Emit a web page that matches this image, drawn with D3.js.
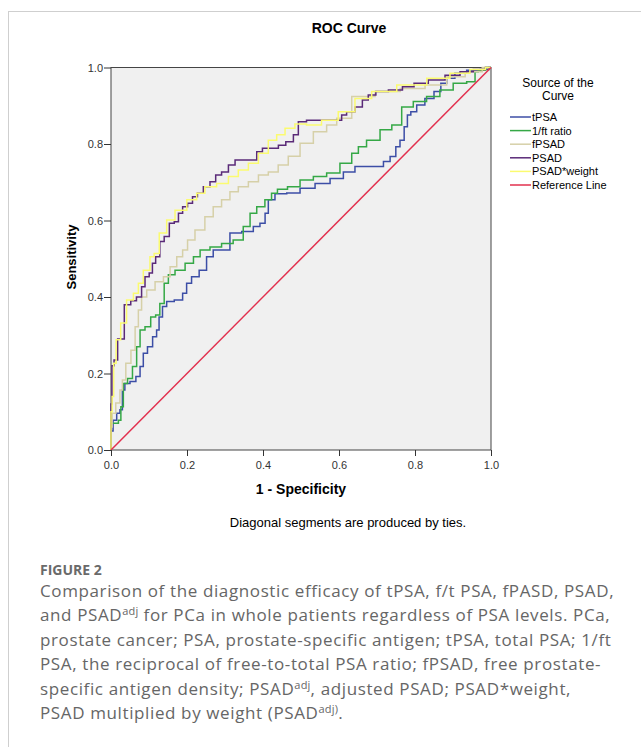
<!DOCTYPE html>
<meta charset="utf-8">
<style>
body { margin: 0; background: #fff; }
svg text { font-family: "Liberation Sans", Arial, sans-serif; }
.tick text { font-size: 11px; fill: #333; }
.tick line, .domain { stroke: #333; }
.caption { font-family: "Open Sans", sans-serif; fill: #666; }
</style>
<body>
<script src="https://d3js.org/d3.v7.min.js"></script>
<script>

// ROC curves: 1 - specificity (fpr) and sensitivity (tpr)
var tPSA_fpr = [0, 0, 0.011, 0.019, 0.028, 0.032, 0.041, 0.059, 0.072, 0.081, 0.089, 0.103, 0.116, 0.124, 0.129, 0.142, 0.151, 0.182, 0.195, 0.203, 0.221, 0.243, 0.26, 0.278, 0.304, 0.322, 0.366, 0.383, 0.401, 0.41, 0.418, 0.445, 0.48, 0.515, 0.559, 0.594, 0.629, 0.655, 0.708, 0.726, 0.743, 0.756, 0.765, 0.778, 0.782, 0.796, 0.813, 0.839, 0.861, 0.875, 0.892, 0.918, 0.954, 0.989, 1];
var tPSA_tpr = [0, 0.05, 0.078, 0.096, 0.105, 0.157, 0.174, 0.179, 0.192, 0.218, 0.253, 0.27, 0.296, 0.314, 0.348, 0.375, 0.388, 0.392, 0.41, 0.436, 0.453, 0.47, 0.505, 0.523, 0.523, 0.567, 0.571, 0.584, 0.593, 0.619, 0.654, 0.67, 0.672, 0.684, 0.697, 0.71, 0.727, 0.741, 0.741, 0.754, 0.767, 0.793, 0.81, 0.845, 0.876, 0.884, 0.902, 0.919, 0.937, 0.959, 0.972, 0.985, 0.993, 0.995, 1];

var ft_fpr = [0, 0, 0.015, 0.024, 0.028, 0.037, 0.05, 0.063, 0.072, 0.081, 0.098, 0.111, 0.124, 0.133, 0.147, 0.155, 0.182, 0.208, 0.226, 0.243, 0.278, 0.304, 0.339, 0.357, 0.375, 0.392, 0.418, 0.427, 0.449, 0.48, 0.515, 0.55, 0.585, 0.62, 0.647, 0.655, 0.69, 0.726, 0.752, 0.778, 0.813, 0.848, 0.883, 0.918, 0.954, 0.962, 0.971, 1];
var ft_tpr = [0, 0.07, 0.07, 0.078, 0.113, 0.174, 0.187, 0.218, 0.27, 0.314, 0.322, 0.348, 0.353, 0.383, 0.436, 0.458, 0.47, 0.488, 0.505, 0.523, 0.531, 0.54, 0.549, 0.584, 0.619, 0.636, 0.654, 0.671, 0.682, 0.688, 0.706, 0.715, 0.724, 0.75, 0.776, 0.793, 0.81, 0.837, 0.85, 0.897, 0.911, 0.924, 0.941, 0.959, 0.963, 0.989, 0.993, 1];

var fPSAD_fpr = [0, 0, 0.006, 0.019, 0.028, 0.032, 0.046, 0.059, 0.068, 0.076, 0.085, 0.103, 0.129, 0.147, 0.164, 0.182, 0.195, 0.208, 0.234, 0.26, 0.278, 0.304, 0.322, 0.348, 0.375, 0.401, 0.427, 0.453, 0.48, 0.515, 0.55, 0.585, 0.603, 0.664, 0.726, 0.796, 0.857, 0.91, 0.954, 1];
var fPSAD_tpr = [0, 0.06, 0.096, 0.123, 0.157, 0.183, 0.227, 0.261, 0.322, 0.366, 0.4, 0.418, 0.44, 0.453, 0.479, 0.505, 0.523, 0.549, 0.575, 0.61, 0.636, 0.654, 0.675, 0.688, 0.701, 0.719, 0.727, 0.745, 0.768, 0.802, 0.832, 0.85, 0.867, 0.924, 0.937, 0.945, 0.954, 0.976, 0.989, 1];

var PSAD_fpr = [0, 0, 0.005, 0.011, 0.024, 0.046, 0.058, 0.076, 0.085, 0.094, 0.107, 0.111, 0.124, 0.133, 0.147, 0.16, 0.173, 0.182, 0.195, 0.208, 0.221, 0.234, 0.252, 0.269, 0.282, 0.3, 0.318, 0.335, 0.375, 0.392, 0.405, 0.432, 0.449, 0.471, 0.489, 0.497, 0.532, 0.603, 0.611, 0.629, 0.655, 0.668, 0.686, 0.708, 0.752, 0.782, 0.813, 0.857, 0.901, 0.936, 0.971, 1];
var PSAD_tpr = [0, 0.12, 0.22, 0.235, 0.29, 0.38, 0.39, 0.4, 0.427, 0.453, 0.463, 0.488, 0.505, 0.545, 0.558, 0.593, 0.597, 0.619, 0.636, 0.645, 0.662, 0.671, 0.688, 0.701, 0.719, 0.727, 0.745, 0.758, 0.758, 0.78, 0.789, 0.789, 0.797, 0.806, 0.824, 0.858, 0.862, 0.862, 0.876, 0.884, 0.897, 0.915, 0.928, 0.937, 0.941, 0.95, 0.959, 0.967, 0.98, 0.989, 0.995, 1];

var PSADw_fpr = [0, 0, 0.006, 0.008, 0.019, 0.032, 0.05, 0.068, 0.076, 0.094, 0.111, 0.116, 0.138, 0.155, 0.182, 0.217, 0.234, 0.26, 0.296, 0.322, 0.348, 0.375, 0.401, 0.427, 0.445, 0.471, 0.497, 0.532, 0.576, 0.62, 0.664, 0.708, 0.796, 0.866, 0.918, 0.971, 1];
var PSADw_tpr = [0, 0.1, 0.14, 0.227, 0.288, 0.332, 0.392, 0.41, 0.436, 0.47, 0.505, 0.514, 0.567, 0.601, 0.627, 0.654, 0.671, 0.688, 0.697, 0.715, 0.732, 0.75, 0.776, 0.81, 0.824, 0.841, 0.852, 0.85, 0.862, 0.884, 0.919, 0.937, 0.954, 0.972, 0.985, 0.995, 1];

var ref_fpr = [0, 1];
var ref_tpr = [0, 1];

var seriesNames = ["tPSA", "1/ft ratio", "fPSAD", "PSAD", "PSAD*weight", "Reference Line"];
var seriesColors = ["#3c4ea6", "#35a846", "#d6d0a8", "#5a2a78", "#fbfb70", "#e2304e"];
var seriesFpr = [tPSA_fpr, ft_fpr, fPSAD_fpr, PSAD_fpr, PSADw_fpr, ref_fpr];
var seriesTpr = [tPSA_tpr, ft_tpr, fPSAD_tpr, PSAD_tpr, PSADw_tpr, ref_tpr];
var tickValues = [0, 0.2, 0.4, 0.6, 0.8, 1.0];

var captionLines = [
  [["Comparison of the diagnostic efficacy of tPSA, f/t PSA, fPASD, PSAD,", 0]],
  [["and PSAD", 0], ["adj", 1], [" for PCa in whole patients regardless of PSA levels. PCa,", 0]],
  [["prostate cancer; PSA, prostate-specific antigen; tPSA, total PSA; 1/ft", 0]],
  [["PSA, the reciprocal of free-to-total PSA ratio; fPSAD, free prostate-", 0]],
  [["specific antigen density; PSAD", 0], ["adj", 1], [", adjusted PSAD; PSAD*weight,", 0]],
  [["PSAD multiplied by weight (PSAD", 0], ["adj)", 1], [".", 0]]
];

var W = 641, H = 747;
var plot = {left: 111, top: 67.5, right: 491, bottom: 450};

var svg = d3.select("body").append("svg")
    .attr("width", W)
    .attr("height", H);

// card frame
svg.append("rect")
    .attr("x", 8.5).attr("y", 11.5)
    .attr("width", W + 10).attr("height", H + 10)
    .attr("fill", "#fff")
    .attr("stroke", "#cfcfcf");

var x = d3.scaleLinear().domain([0, 1]).range([plot.left, plot.right]);
var y = d3.scaleLinear().domain([0, 1]).range([plot.bottom, plot.top]);

// plot background
svg.append("rect")
    .attr("x", plot.left).attr("y", plot.top)
    .attr("width", plot.right - plot.left)
    .attr("height", plot.bottom - plot.top)
    .attr("fill", "#f0f0f0")
    .attr("stroke", "#444");

// curves
var line = d3.line()
    .x(function(d) { return x(d[0]); })
    .y(function(d) { return y(d[1]); });

seriesNames.forEach(function(name, i) {
  var pts = d3.zip(seriesFpr[i], seriesTpr[i]);
  svg.append("path")
      .datum(pts)
      .attr("fill", "none")
      .attr("stroke", seriesColors[i])
      .attr("stroke-width", 1.5)
      .attr("d", line.curve(i == 5 ? d3.curveLinear : d3.curveStep));
});

// axes
svg.append("g")
    .attr("transform", "translate(0," + plot.bottom + ")")
    .call(d3.axisBottom(x).tickValues(tickValues).tickFormat(d3.format(".1f")).tickSize(6).tickSizeOuter(0))
    .call(function(g) { g.select(".domain").remove(); })
    .selectAll("text").attr("dy", "0.9em");

svg.append("g")
    .attr("transform", "translate(" + plot.left + ",0)")
    .call(d3.axisLeft(y).tickValues(tickValues).tickFormat(d3.format(".1f")).tickSize(7).tickSizeOuter(0))
    .call(function(g) { g.select(".domain").remove(); })
    .selectAll("text").attr("x", -8);

// titles
svg.append("text")
    .attr("x", 349).attr("y", 33)
    .attr("text-anchor", "middle")
    .style("font-size", "14px").style("font-weight", "bold")
    .text("ROC Curve");

svg.append("text")
    .attr("x", 301).attr("y", 494)
    .attr("text-anchor", "middle")
    .style("font-size", "14px").style("font-weight", "bold")
    .text("1 - Specificity");

svg.append("text")
    .attr("transform", "translate(76,257) rotate(-90)")
    .attr("text-anchor", "middle")
    .style("font-size", "13px").style("font-weight", "bold")
    .text("Sensitivity");

svg.append("text")
    .attr("x", 348).attr("y", 527)
    .attr("text-anchor", "middle")
    .style("font-size", "13px")
    .text("Diagonal segments are produced by ties.");

// legend
var lg = svg.append("g");
lg.append("text").attr("x", 558).attr("y", 87).attr("text-anchor", "middle")
    .style("font-size", "12px").text("Source of the");
lg.append("text").attr("x", 558).attr("y", 100).attr("text-anchor", "middle")
    .style("font-size", "12px").text("Curve");

seriesNames.forEach(function(name, i) {
  var yy = 117 + i * 13.6;
  lg.append("line")
      .attr("x1", 510).attr("x2", 531)
      .attr("y1", yy).attr("y2", yy)
      .attr("stroke", seriesColors[i]).attr("stroke-width", 1.5);
  lg.append("text")
      .attr("x", 532).attr("y", yy + 4)
      .style("font-size", "11px")
      .text(name);
});

// caption
svg.append("text")
    .attr("class", "caption")
    .attr("x", 40).attr("y", 575)
    .style("font-size", "14px").style("font-weight", "bold").style("fill", "#6a6a6a")
    .text("FIGURE 2");

captionLines.forEach(function(parts, i) {
  var t = svg.append("text")
      .attr("class", "caption")
      .attr("x", 40).attr("y", 597 + i * 24.4)
      .style("font-size", "17px")
      .style("letter-spacing", "0.62px");
  parts.forEach(function(p) {
    var s = t.append("tspan").text(p[0]);
    if (p[1]) s.style("font-size", "11px").style("letter-spacing", "0.2px").attr("baseline-shift", "6px");
  });
});

</script>
</body>
